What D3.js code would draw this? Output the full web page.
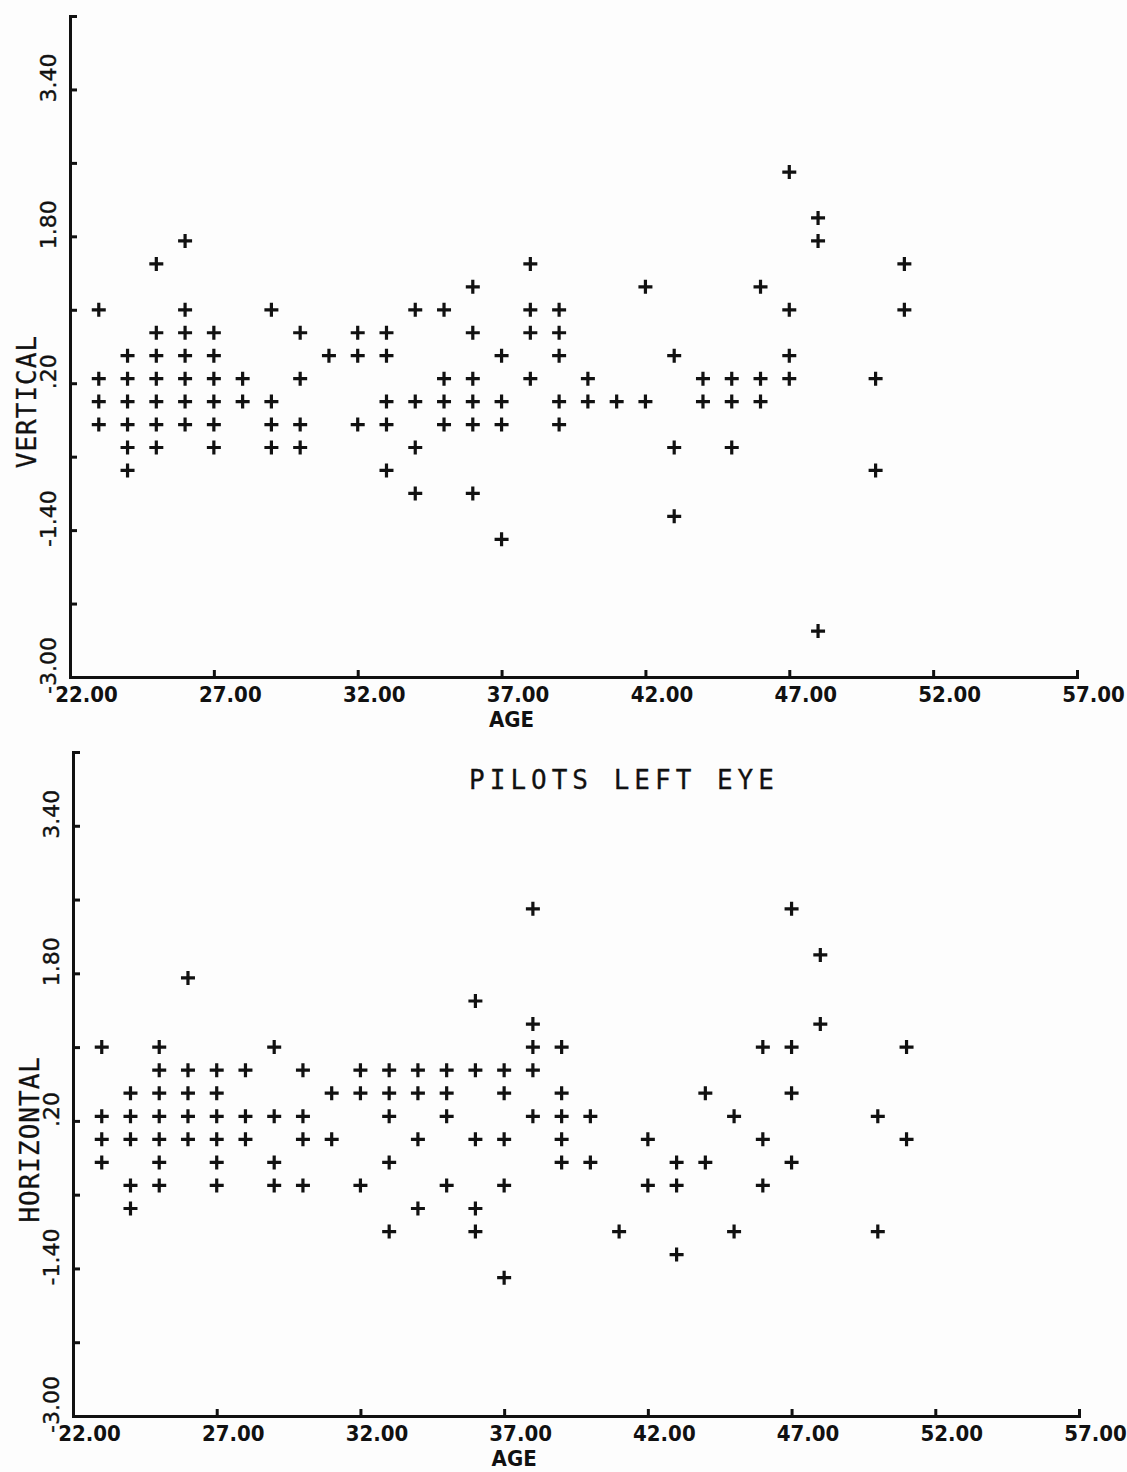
<!DOCTYPE html>
<html>
<head>
<meta charset="utf-8">
<script src="https://cdn.jsdelivr.net/npm/d3@7"></script>
<style>
  body { margin: 0; background: #fdfdfd; }
  svg { display: block; }
  .tick line, .domain { stroke: #111; stroke-width: 3; }
  .xlab { font-family: "DejaVu Sans Condensed", "DejaVu Sans", sans-serif; font-weight: bold; font-size: 22px; fill: #111; }
  .ylab { font-family: "DejaVu Sans", sans-serif; font-size: 22px; fill: #111; stroke: #111; stroke-width: 0.4; }
  .title { font-family: "DejaVu Sans Mono", monospace; font-size: 26px; fill: #111; stroke: #111; stroke-width: 0.3; }
</style>
</head>
<body>
<div id="chart"></div>
<script>
// ages with at least one column of points (49 is empty)
const ages = [23, 24, 25, 26, 27, 28, 29, 30, 31, 32, 33, 34, 35, 36, 37,
              38, 39, 40, 41, 42, 43, 44, 45, 46, 47, 48, 49, 50, 51];

const vertical = [
  [1.0, 0.25, 0, -0.25],
  [0.5, 0.25, 0, -0.25, -0.5, -0.75],
  [1.5, 0.75, 0.5, 0.25, 0, -0.25, -0.5],
  [1.75, 1.0, 0.75, 0.5, 0.25, 0, -0.25],
  [0.75, 0.5, 0.25, 0, -0.25, -0.5],
  [0.25, 0],
  [1.0, 0, -0.25, -0.5],
  [0.75, 0.25, -0.25, -0.5],
  [0.5],
  [0.75, 0.5, -0.25],
  [0.75, 0.5, 0, -0.25, -0.75],
  [1.0, 0, -0.5, -1.0],
  [1.0, 0.25, 0, -0.25],
  [1.25, 0.75, 0.25, 0, -0.25, -1.0],
  [0.5, 0, -0.25, -1.5],
  [1.5, 1.0, 0.75, 0.25],
  [1.0, 0.75, 0.5, 0, -0.25],
  [0.25, 0],
  [0],
  [1.25, 0],
  [0.5, -0.5, -1.25],
  [0.25, 0],
  [0.25, 0, -0.5],
  [1.25, 0.25, 0],
  [2.5, 1.0, 0.5, 0.25],
  [2.0, 1.75, -2.5],
  [],
  [0.25, -0.75],
  [1.5, 1.0]
];

const horizontal = [
  [1.0, 0.25, 0, -0.25],
  [0.5, 0.25, 0, -0.5, -0.75],
  [1.0, 0.75, 0.5, 0.25, 0, -0.25, -0.5],
  [1.75, 0.75, 0.5, 0.25, 0],
  [0.75, 0.5, 0.25, 0, -0.25, -0.5],
  [0.75, 0.25, 0],
  [1.0, 0.25, -0.25, -0.5],
  [0.75, 0.25, 0, -0.5],
  [0.5, 0],
  [0.75, 0.5, -0.5],
  [0.75, 0.5, 0.25, -0.25, -1.0],
  [0.75, 0.5, 0, -0.75],
  [0.75, 0.5, 0.25, -0.5],
  [1.5, 0.75, 0, -0.75, -1.0],
  [0.75, 0.5, 0, -0.5, -1.5],
  [2.5, 1.25, 1.0, 0.75, 0.25],
  [1.0, 0.5, 0.25, 0, -0.25],
  [0.25, -0.25],
  [-1.0],
  [0, -0.5],
  [-0.25, -0.5, -1.25],
  [0.5, -0.25],
  [0.25, -1.0],
  [1.0, 0, -0.5],
  [2.5, 1.0, 0.5, -0.25],
  [2.0, 1.25],
  [],
  [0.25, -1.0],
  [1.0, 0]
];

const xTicks = [22, 27, 32, 37, 42, 47, 52, 57];
const yTicks = [-3.0, -2.2, -1.4, -0.6, 0.2, 1.0, 1.8, 2.6, 3.4, 4.2];
const yTickLabels = ["-3.00", "", "-1.40", "", ".20", "", "1.80", "", "3.40", ""];

const svg = d3.select("#chart").append("svg")
    .attr("width", 1127)
    .attr("height", 1472);

function drawPanel(values, yTitle, box) {
    const x = d3.scaleLinear().domain([22, 57]).range([box.left, box.right]);
    const y = d3.scaleLinear().domain([-3, 4.2]).range([box.bottom, box.top]);
    const g = svg.append("g");

    const yAxis = d3.axisLeft(y)
        .tickValues(yTicks)
        .tickSizeInner(-7)
        .tickSizeOuter(-7)
        .tickFormat((d, i) => yTickLabels[i]);
    const ya = g.append("g")
        .attr("transform", `translate(${box.left},0)`)
        .call(yAxis);
    ya.selectAll("text")
        .attr("class", "ylab")
        .attr("transform", "rotate(-90)")
        .attr("text-anchor", "middle")
        .attr("x", 12)
        .attr("y", -14)
        .attr("dy", 0);

    const xAxis = d3.axisBottom(x)
        .tickValues(xTicks)
        .tickSizeInner(-7)
        .tickSizeOuter(-7)
        .tickFormat(d3.format(".2f"));
    const xa = g.append("g")
        .attr("transform", `translate(0,${box.bottom})`)
        .call(xAxis);
    xa.selectAll("text")
        .attr("class", "xlab")
        .attr("x", 16)
        .attr("y", 25)
        .attr("dy", 0);

    g.selectAll(".domain").attr("fill", "none");

    g.append("text")
        .attr("class", "xlab")
        .attr("text-anchor", "middle")
        .attr("font-size", 21)
        .attr("x", x(37) + 10)
        .attr("y", box.bottom + 50)
        .text("AGE");

    g.append("text")
        .attr("class", "title")
        .attr("text-anchor", "middle")
        .attr("letter-spacing", 1)
        .attr("transform", `translate(${box.left - 34},${y(0)}) rotate(-90)`)
        .text(yTitle);

    const pts = [];
    ages.forEach((a, i) => values[i].forEach(v => pts.push({ age: a, v: v })));

    g.append("g").selectAll("path")
        .data(pts)
        .join("path")
        .attr("transform", d => `translate(${x(d.age)},${y(d.v)})`)
        .attr("d", "M-7,0H7M0,-7V7")
        .attr("stroke", "#111")
        .attr("stroke-width", 3.2)
        .attr("fill", "none");

    return { x, y };
}

drawPanel(vertical, "VERTICAL", { left: 70, right: 1077, top: 16, bottom: 677 });
drawPanel(horizontal, "HORIZONTAL", { left: 73, right: 1079, top: 752, bottom: 1416 });

svg.append("text")
    .attr("class", "title")
    .attr("text-anchor", "middle")
    .attr("letter-spacing", 5)
    .attr("x", 624)
    .attr("y", 789)
    .text("PILOTS LEFT EYE");
</script>
</body>
</html>
